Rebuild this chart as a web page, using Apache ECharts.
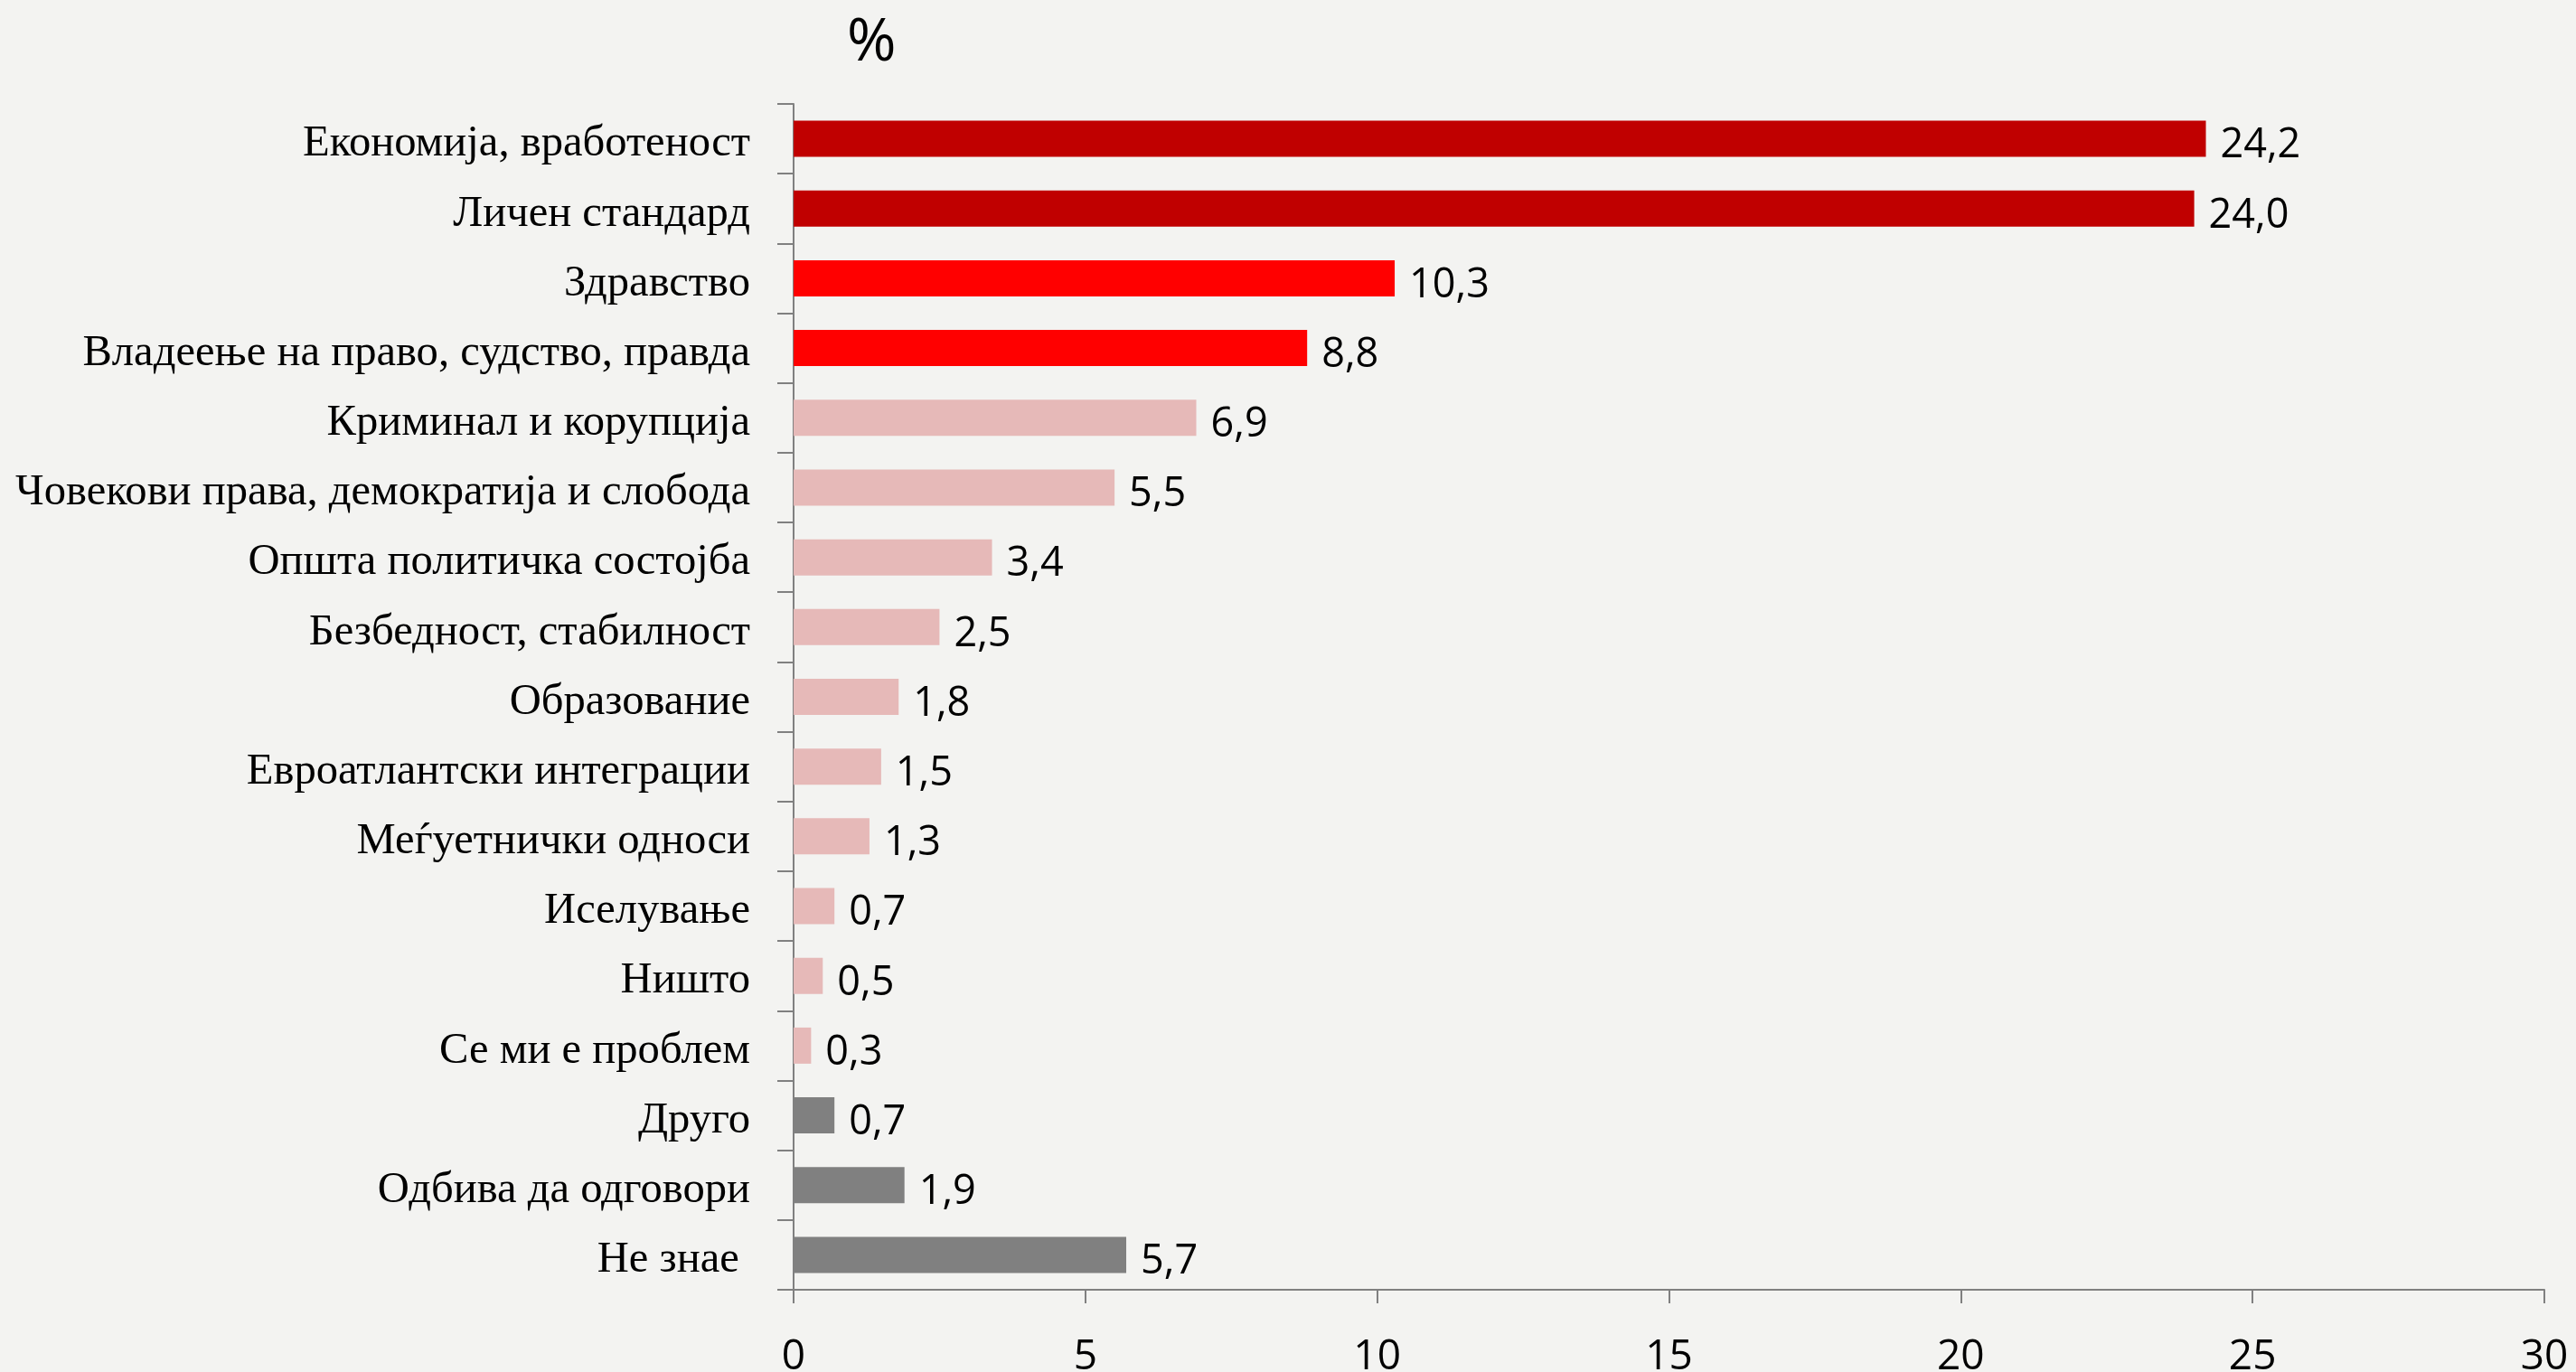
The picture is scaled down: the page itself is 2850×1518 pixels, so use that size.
<!DOCTYPE html>
<html>
<head>
<meta charset="utf-8">
<script src="https://cdn.jsdelivr.net/npm/echarts@6/dist/echarts.min.js"></script>
<style>
html,body{margin:0;padding:0;background:#f3f3f1;}
#c{width:2850px;height:1518px;}
</style>
</head>
<body>
<div id="c"></div>
<script>
const categories = [
  'Економија, вработеност',
  'Личен стандард',
  'Здравство',
  'Владеење на право, судство, правда',
  'Криминал и корупција',
  'Човекови права, демократија и слобода',
  'Општа политичка состојба',
  'Безбедност, стабилност',
  'Образование',
  'Евроатлантски интеграции',
  'Меѓуетнички односи',
  'Иселување',
  'Ништо',
  'Се ми е проблем',
  'Друго',
  'Одбива да одговори',
  'Не знае '
];
const values = [24.2, 24.0, 10.3, 8.8, 6.9, 5.5, 3.4, 2.5, 1.8, 1.5, 1.3, 0.7, 0.5, 0.3, 0.7, 1.9, 5.7];
const groups = ['top','top','high','high','mid','mid','mid','mid','mid','mid','mid','mid','mid','mid','other','other','other'];
const xTicks = [0, 5, 10, 15, 20, 25, 30];

const groupColors = { top: '#c00000', high: '#ff0000', mid: '#e6b9b8', other: '#808080' };

const chart = echarts.init(document.getElementById('c'));
chart.setOption({
  backgroundColor: '#f3f3f1',
  animation: false,
  title: {
    text: '%',
    left: 932,
    top: 10,
    textStyle: { fontFamily: 'Open Sans', fontSize: 66, fontWeight: 'normal', color: '#000' }
  },
  grid: { left: 878, right: 35, top: 115, bottom: 91, containLabel: false, outerBoundsMode: 'none' },
  xAxis: {
    type: 'value',
    min: xTicks[0],
    max: xTicks[xTicks.length - 1],
    interval: 5,
    splitLine: { show: false },
    axisLine: { show: true, lineStyle: { color: '#808080', width: 2 } },
    axisTick: { show: true, length: 15, lineStyle: { color: '#808080', width: 2 } },
    axisLabel: { margin: 52, fontFamily: 'Open Sans', fontSize: 46, color: '#000' }
  },
  yAxis: {
    type: 'category',
    inverse: true,
    data: categories,
    axisLine: { show: true, lineStyle: { color: '#808080', width: 2 } },
    axisTick: { show: true, length: 18, lineStyle: { color: '#808080', width: 2 } },
    axisLabel: {
      margin: 48,
      color: '#000',
      fontFamily: 'Liberation Serif',
      fontSize: 48.6,
      formatter: v => '{a|' + v + '}',
      rich: {
        a: { fontFamily: 'Liberation Serif', fontSize: 48.6, color: '#000', padding: [12, 0, 0, 0] }
      }
    }
  },
  series: [{
    type: 'bar',
    barWidth: 40,
    data: values.map((v, i) => ({ value: v, itemStyle: { color: groupColors[groups[i]] } })),
    label: {
      show: true,
      position: 'right',
      distance: 16,
      offset: [0, 8],
      fontFamily: 'Open Sans',
      fontSize: 45,
      color: '#000',
      formatter: p => p.value.toFixed(1).replace('.', ',')
    }
  }]
});
</script>
</body>
</html>
